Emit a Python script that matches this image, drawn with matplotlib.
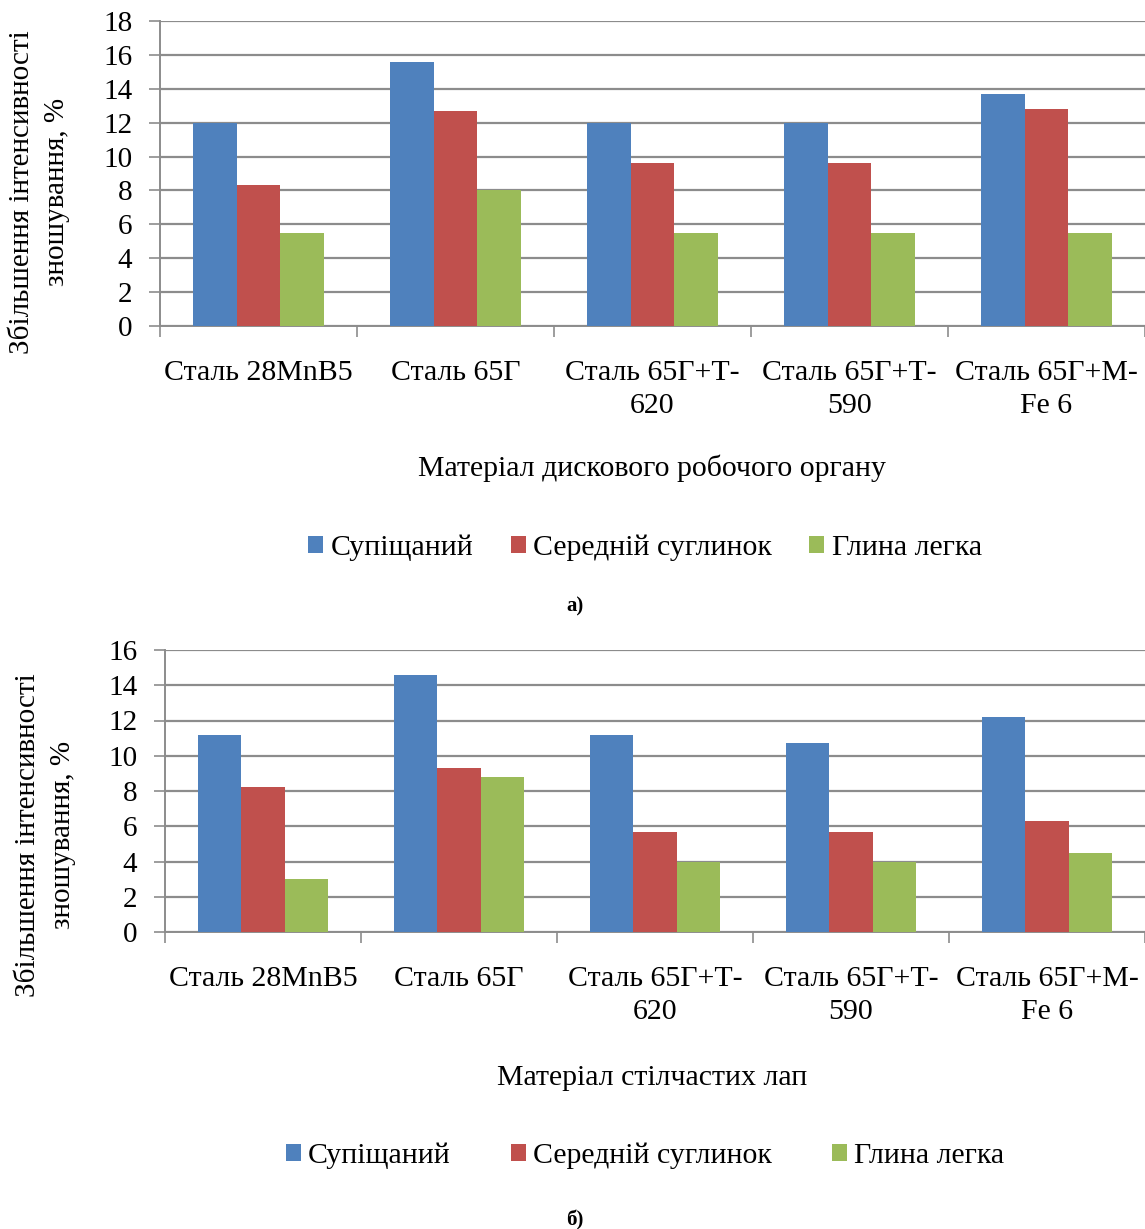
import numpy as np
import matplotlib.pyplot as plt

plt.rcParams['font.family'] = ['Liberation Serif', 'DejaVu Serif']

# Data
categories = ['Сталь 28MnB5', 'Сталь 65Г', 'Сталь 65Г+Т-\n620', 'Сталь 65Г+Т-\n590', 'Сталь 65Г+М-\nFe 6']
series_names = ['Супіщаний', 'Середній суглинок', 'Глина легка']

disc_sandy = [12.0, 15.6, 12.0, 12.0, 13.7]
disc_loam = [8.3, 12.7, 9.6, 9.6, 12.8]
disc_clay = [5.5, 8.0, 5.5, 5.5, 5.5]

paw_sandy = [11.2, 14.6, 11.2, 10.7, 12.2]
paw_loam = [8.2, 9.3, 5.7, 5.7, 6.3]
paw_clay = [3.0, 8.8, 4.0, 4.0, 4.5]

colors = ['#4F81BD', '#C0504D', '#9BBB59']
grid_color = '#8C8C8C'

fig = plt.figure(figsize=(11.45, 12.29), dpi=100)
W, H = 1145, 1229


def px(x, y):
    return x / W, 1 - y / H


def draw_panel(rect, series, ymax, xlabel, xlabel_y, legend_y, col_space, tag, tag_y,
               ylab_x, ylab_y, cat_y):
    ax = fig.add_axes(rect)
    x = np.arange(len(categories))
    w = 1 / 4.5
    for i, vals in enumerate(series):
        ax.bar(x + (i - 1) * w, vals, width=w, color=colors[i], label=series_names[i],
               zorder=3, linewidth=0)
    ax.set_xlim(-0.5, len(categories) - 0.5)
    ax.set_ylim(0, ymax)
    ax.set_yticks(np.arange(0, ymax + 1, 2))
    ax.yaxis.grid(True, color=grid_color, linewidth=1.6, zorder=0)
    ax.set_xticks(np.arange(-0.5, len(categories), 1))
    ax.set_xticklabels([])
    ax.tick_params(axis='x', direction='out', length=8, width=1.2, color=grid_color)
    ax.tick_params(axis='y', direction='out', length=8, width=1.2, color=grid_color,
                   labelsize=21, pad=12)
    for s in ['top', 'right']:
        ax.spines[s].set_visible(False)
    for s in ['left', 'bottom']:
        ax.spines[s].set_color(grid_color)
        ax.spines[s].set_linewidth(1.4)
    # category labels under the groups
    for xi, lab in zip(x, categories):
        ax.text(xi, -cat_y / (rect[3] * H), lab, transform=ax.get_xaxis_transform(),
                ha='center', va='top', fontsize=21.5, linespacing=1.35)
    fx, fy = px(652, xlabel_y)
    fig.text(fx, fy, xlabel, ha='center', va='center', fontsize=21.5)
    lx, ly = px(645, legend_y)
    fig.legend(*ax.get_legend_handles_labels(), loc='center', bbox_to_anchor=(lx, ly),
               ncol=3, frameon=False, fontsize=21.5, handlelength=0.5, handleheight=0.5,
               handletextpad=0.25, columnspacing=col_space)
    tx, ty = px(575, tag_y)
    fig.text(tx, ty, tag, ha='center', va='center', fontsize=15, fontweight='bold')
    yx, yy = px(ylab_x, ylab_y)
    fig.text(yx, yy, 'Збільшення інтенсивності\nзношування, %', rotation=90,
             ha='center', va='center', fontsize=21, linespacing=1.45, multialignment='center')
    return ax


# top panel (a)
draw_panel([160 / W, 1 - 326 / H, 1 - 160 / W, (326 - 21) / H],
           [disc_sandy, disc_loam, disc_clay], 18,
           'Матеріал дискового робочого органу', 468, 548, 1.25, 'а)', 606, 40, 192, 34)

# bottom panel (б)
draw_panel([165 / W, 1 - 932 / H, 1 - 165 / W, (932 - 650) / H],
           [paw_sandy, paw_loam, paw_clay], 16,
           'Матеріал стілчастих лап', 1078, 1156, 2.0, 'б)', 1220, 46, 835, 34)

fig.savefig('out.png', dpi=100)
